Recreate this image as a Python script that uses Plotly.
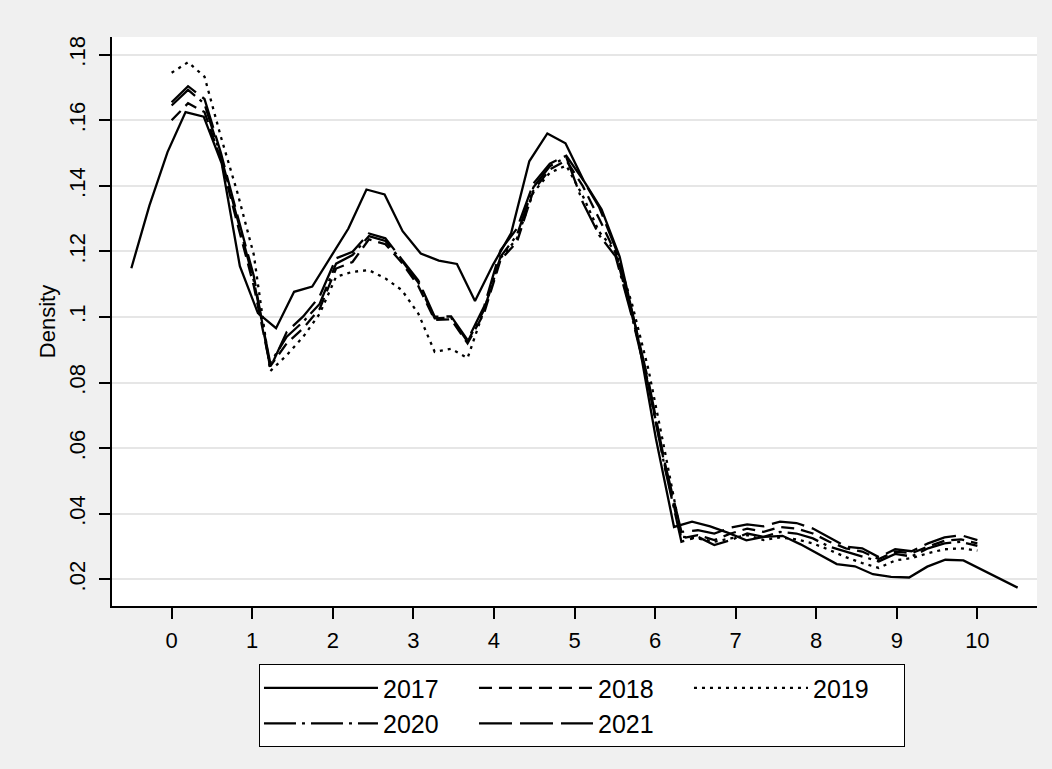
import plotly.graph_objects as go

# ---- data (kernel density estimates) ----
x_2017 = [-0.500, -0.276, -0.051, 0.173, 0.398, 0.622, 0.847, 1.071, 1.296, 1.520,
          1.745, 1.969, 2.194, 2.418, 2.643, 2.867, 3.092, 3.316, 3.541, 3.765,
          3.990, 4.214, 4.439, 4.663, 4.888, 5.112, 5.337, 5.561, 5.786, 6.010,
          6.235, 6.459, 6.684, 6.908, 7.133, 7.357, 7.582, 7.806, 8.031, 8.255,
          8.480, 8.704, 8.929, 9.153, 9.378, 9.602, 9.827, 10.051, 10.276, 10.500]
d_2017 = [0.1149, 0.1340, 0.1503, 0.1625, 0.1611, 0.1468, 0.1155, 0.1012, 0.0966, 0.1077,
          0.1093, 0.1183, 0.1270, 0.1389, 0.1374, 0.1262, 0.1194, 0.1172, 0.1162, 0.1049,
          0.1160, 0.1256, 0.1475, 0.1560, 0.1530, 0.1417, 0.1328, 0.1184, 0.0940, 0.0630,
          0.0360, 0.0376, 0.0362, 0.0342, 0.0319, 0.0330, 0.0333, 0.0307, 0.0277, 0.0247,
          0.0240, 0.0216, 0.0208, 0.0206, 0.0239, 0.0260, 0.0258, 0.0231, 0.0203, 0.0175]

x_grid = [0.000, 0.204, 0.408, 0.612, 0.816, 1.020, 1.224, 1.429, 1.633, 1.837,
          2.041, 2.245, 2.449, 2.653, 2.857, 3.061, 3.265, 3.469, 3.673, 3.878,
          4.082, 4.286, 4.490, 4.694, 4.898, 5.102, 5.306, 5.510, 5.714, 5.918,
          6.122, 6.327, 6.531, 6.735, 6.939, 7.143, 7.347, 7.551, 7.755, 7.959,
          8.163, 8.367, 8.571, 8.776, 8.980, 9.184, 9.388, 9.592, 9.796, 10.000]

d_2018 = [0.1600, 0.1652, 0.1625, 0.1480, 0.1285, 0.1095, 0.0850, 0.0920, 0.0966, 0.1025,
          0.1148, 0.1168, 0.1237, 0.1222, 0.1166, 0.1095, 0.0991, 0.0993, 0.0920, 0.1012,
          0.1174, 0.1229, 0.1386, 0.1450, 0.1478, 0.1400, 0.1300, 0.1195, 0.1005, 0.0795,
          0.0545, 0.0325, 0.0335, 0.0320, 0.0340, 0.0355, 0.0345, 0.0360, 0.0355, 0.0340,
          0.0315, 0.0295, 0.0285, 0.0262, 0.0285, 0.0280, 0.0300, 0.0318, 0.0322, 0.0310]

d_2019 = [0.1745, 0.1777, 0.1733, 0.1549, 0.1380, 0.1190, 0.0835, 0.0884, 0.0940, 0.1010,
          0.1123, 0.1138, 0.1143, 0.1118, 0.1082, 0.1011, 0.0894, 0.0903, 0.0875, 0.1022,
          0.1180, 0.1240, 0.1380, 0.1440, 0.1462, 0.1370, 0.1260, 0.1200, 0.1040, 0.0840,
          0.0590, 0.0330, 0.0325, 0.0315, 0.0325, 0.0335, 0.0320, 0.0328, 0.0322, 0.0310,
          0.0290, 0.0268, 0.0250, 0.0235, 0.0258, 0.0265, 0.0280, 0.0292, 0.0295, 0.0288]

d_2020 = [0.1645, 0.1693, 0.1650, 0.1490, 0.1300, 0.1110, 0.0860, 0.0940, 0.0986, 0.1040,
          0.1163, 0.1189, 0.1247, 0.1232, 0.1172, 0.1105, 0.0996, 0.0998, 0.0925, 0.1022,
          0.1184, 0.1250, 0.1396, 0.1460, 0.1488, 0.1350, 0.1250, 0.1185, 0.1000, 0.0790,
          0.0540, 0.0315, 0.0330, 0.0305, 0.0320, 0.0340, 0.0330, 0.0345, 0.0340, 0.0325,
          0.0300, 0.0285, 0.0272, 0.0255, 0.0278, 0.0270, 0.0295, 0.0310, 0.0315, 0.0302]

d_2021 = [0.1655, 0.1704, 0.1665, 0.1500, 0.1310, 0.1125, 0.0845, 0.0955, 0.1002, 0.1063,
          0.1179, 0.1199, 0.1255, 0.1240, 0.1176, 0.1112, 0.1001, 0.1002, 0.0930, 0.1032,
          0.1204, 0.1270, 0.1407, 0.1468, 0.1492, 0.1420, 0.1335, 0.1210, 0.1015, 0.0805,
          0.0555, 0.0345, 0.0350, 0.0340, 0.0358, 0.0368, 0.0362, 0.0376, 0.0372, 0.0355,
          0.0328, 0.0300, 0.0295, 0.0268, 0.0292, 0.0286, 0.0310, 0.0328, 0.0335, 0.0320]

y_ticks = [0.02, 0.04, 0.06, 0.08, 0.10, 0.12, 0.14, 0.16, 0.18]
y_tick_labels = [".02", ".04", ".06", ".08", ".1", ".12", ".14", ".16", ".18"]
x_ticks = [0, 1, 2, 3, 4, 5, 6, 7, 8, 9, 10]

FONT = "Arial, 'Liberation Sans', sans-serif"

series = [
    ("2017", x_2017, d_2017, "solid", "c1"),
    ("2018", x_grid, d_2018, "13px,7px", "c2"),
    ("2019", x_grid, d_2019, "3px,5px", "c3"),
    ("2020", x_grid, d_2020, "32px,6px,3px,6px", "c1"),
    ("2021", x_grid, d_2021, "33px,8px", "c2"),
]

fig = go.Figure()
for name, xs, ys, dash, grp in series:
    fig.add_trace(go.Scatter(
        x=xs, y=ys, mode="lines", name=name, legendgroup=grp,
        line=dict(color="black", width=2.3, dash=dash),
        hoverinfo="skip",
    ))

fig.update_layout(
    width=1052, height=769,
    margin=dict(l=112, r=15, t=37, b=163, autoexpand=False),
    paper_bgcolor="#f0f0f0",
    plot_bgcolor="white",
    font=dict(family=FONT, size=22, color="black"),
    showlegend=True,
    legend=dict(
        orientation="h", traceorder="grouped",
        x=0.1589, xanchor="left", y=-0.102, yanchor="top",
        bgcolor="white", bordercolor="black", borderwidth=1,
        font=dict(family=FONT, size=25, color="black"),
        itemwidth=114, entrywidth=86,
    ),
)

fig.update_xaxes(
    range=[-0.74, 10.74], tickvals=x_ticks, ticks="outside", ticklen=11,
    tickwidth=1.5, tickcolor="black", showline=True, linecolor="black",
    linewidth=1.5, showgrid=False, zeroline=False, ticklabelstandoff=3,
    tickfont=dict(family=FONT, size=22, color="black"),
)
fig.update_yaxes(
    range=[0.0119, 0.1854], tickvals=y_ticks, ticktext=y_tick_labels,
    tickangle=-90, ticks="outside", ticklen=11, tickwidth=1.5, tickcolor="black",
    showline=True, linecolor="black", linewidth=1.5, ticklabelstandoff=5,
    showgrid=True, gridcolor="#e6e6e6", gridwidth=1.5, zeroline=False,
    tickfont=dict(family=FONT, size=22, color="black"),
    title=dict(text="Density", font=dict(family=FONT, size=22, color="black"), standoff=4),
)

fig.write_html("out.html", config={"displayModeBar": False},
               post_script="document.body.style.margin='0px';")
